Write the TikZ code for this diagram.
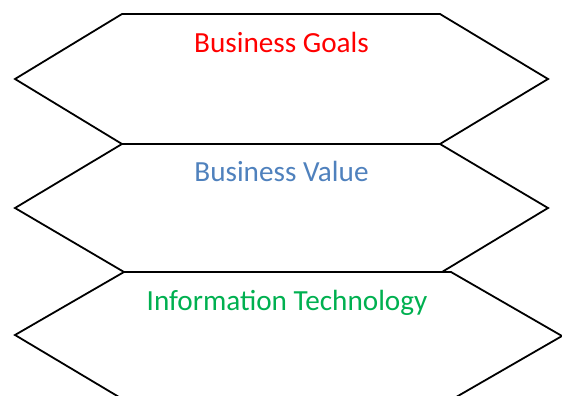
\documentclass[tikz,border=0pt]{standalone}
\usepackage{fontspec}
\setmainfont{Carlito}
\definecolor{goalred}{RGB}{255,0,0}
\definecolor{valueblue}{RGB}{79,129,189}
\definecolor{techgreen}{RGB}{0,176,80}

\begin{document}
\begin{tikzpicture}[x=1pt, y=-1pt,
    hexline/.style={line width=1.8pt, line join=miter},
    layer/.style={anchor=base, font=\fontsize{29.2}{34}\selectfont}]
    \useasboundingbox (0,0) rectangle (562,396);
    % goals
    \draw[hexline] (122,14) -- (440,14) -- (548,79) -- (440,144) -- (122,144) -- (15,79) -- cycle;
    \node[layer, text=goalred] (goals) at (281.5,52.7) {Business Goals};
    % value
    \draw[hexline] (122,144) -- (440,144) -- (548,208) -- (442,272) -- (124,272) -- (15,208) -- cycle;
    \node[layer, text=valueblue] (value) at (281.5,181.5) {Business Value};
    % it
    \draw[hexline] (124,272) -- (451,272) -- (562,336) -- (451,400) -- (124,400) -- (15,335) -- cycle;
    \node[layer, text=techgreen] (tech) at (287,310) {Information Technology};
\end{tikzpicture}
\end{document}
